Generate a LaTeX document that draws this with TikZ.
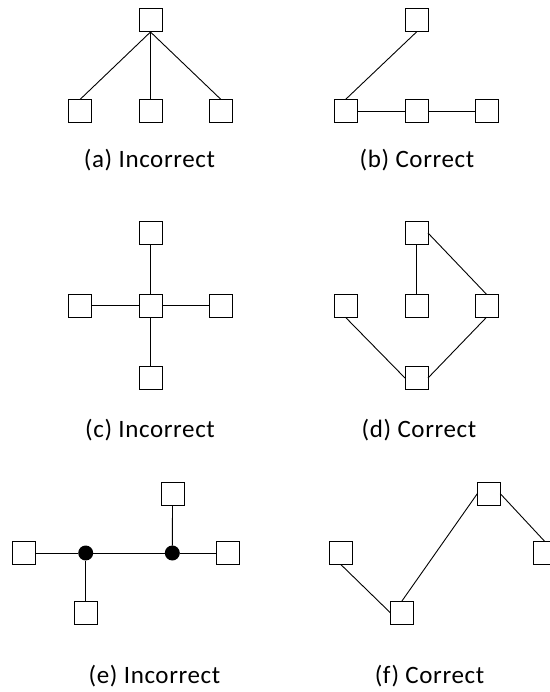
\documentclass[tikz,border=0pt]{standalone}
\usepackage{fontspec}
\setmainfont{Carlito}[LetterSpace=2.5]
\begin{document}
\begin{tikzpicture}[x=1pt,y=-1pt,
  bx/.style={draw=black,line width=1pt,fill=white,minimum size=23pt,inner sep=0pt,outer sep=0pt},
  dot/.style={circle,fill=black,minimum size=15pt,inner sep=0pt,outer sep=0pt},
  ln/.style={line width=0.9pt},
  lab/.style={anchor=base,inner sep=0pt,font=\fontsize{25}{29}\selectfont}]
\useasboundingbox (0,0) rectangle (549,692);
% (a)
\node[bx] (a0) at (150.5,20.5) {};
\node[bx] (a1) at (80,111) {};
\node[bx] (a2) at (150.5,111) {};
\node[bx] (a3) at (221,111) {};
\draw[ln] (a0.south) -- (a1.north);
\draw[ln] (a0.south) -- (a2.north);
\draw[ln] (a0.south) -- (a3.north);
\node[lab] (la) at (149.5,167.5) {(a) Incorrect};
% (b)
\node[bx] (b0) at (416.5,20.5) {};
\node[bx] (b1) at (345.5,111) {};
\node[bx] (b2) at (416.5,111) {};
\node[bx] (b3) at (486.5,111) {};
\draw[ln] (b0.south) -- (b1.north);
\draw[ln] (b1.east) -- (b2.west);
\draw[ln] (b2.east) -- (b3.west);
\node[lab] (lb) at (417,167.5) {(b) Correct};
% (c)
\node[bx] (c0) at (150.5,233) {};
\node[bx] (c1) at (80,305.8) {};
\node[bx] (c2) at (150.5,305.8) {};
\node[bx] (c3) at (221,305.8) {};
\node[bx] (c4) at (150.5,378) {};
\draw[ln] (c0.south) -- (c2.north);
\draw[ln] (c1.east) -- (c2.west);
\draw[ln] (c2.east) -- (c3.west);
\draw[ln] (c2.south) -- (c4.north);
\node[lab] (lc) at (150,437.3) {(c) Incorrect};
% (d)
\node[bx] (d0) at (416.5,233) {};
\node[bx] (d1) at (345.5,305.8) {};
\node[bx] (d2) at (416.5,305.8) {};
\node[bx] (d3) at (486.5,305.8) {};
\node[bx] (d4) at (416.5,378) {};
\draw[ln] (d0.south) -- (d2.north);
\draw[ln] (d0.east) -- (d3.north);
\draw[ln] (d1.south) -- (d4.west);
\draw[ln] (d3.south) -- (d4.east);
\node[lab] (ld) at (419,437.3) {(d) Correct};
% (e)
\node[bx] (e0) at (172.5,493.7) {};
\node[bx] (e1) at (24.3,553) {};
\node[bx] (e2) at (228,553) {};
\node[bx] (e3) at (85.7,612.7) {};
\node[dot] (p1) at (85.7,553) {};
\node[dot] (p2) at (172.3,553) {};
\draw[ln] (e1.east) -- (p1);
\draw[ln] (p1) -- (p2);
\draw[ln] (p2) -- (e2.west);
\draw[ln] (p1) -- (e3.north);
\draw[ln] (p2) -- (e0.south);
% (f)
\node[bx] (f0) at (340.8,553) {};
\node[bx] (f1) at (401.8,612.7) {};
\node[bx] (f2) at (488.8,493.7) {};
\node[bx] (f3) at (544.8,553) {};
\draw[ln] (f0.south) -- (f1.west);
\draw[ln] (f1.north) -- (f2.west);
\draw[ln] (f2.east) -- (f3.north);
\node[lab] (le) at (154.5,683.3) {(e) Incorrect};
\node[lab] (lf) at (429.5,683.3) {(f) Correct};
\end{tikzpicture}
\end{document}
